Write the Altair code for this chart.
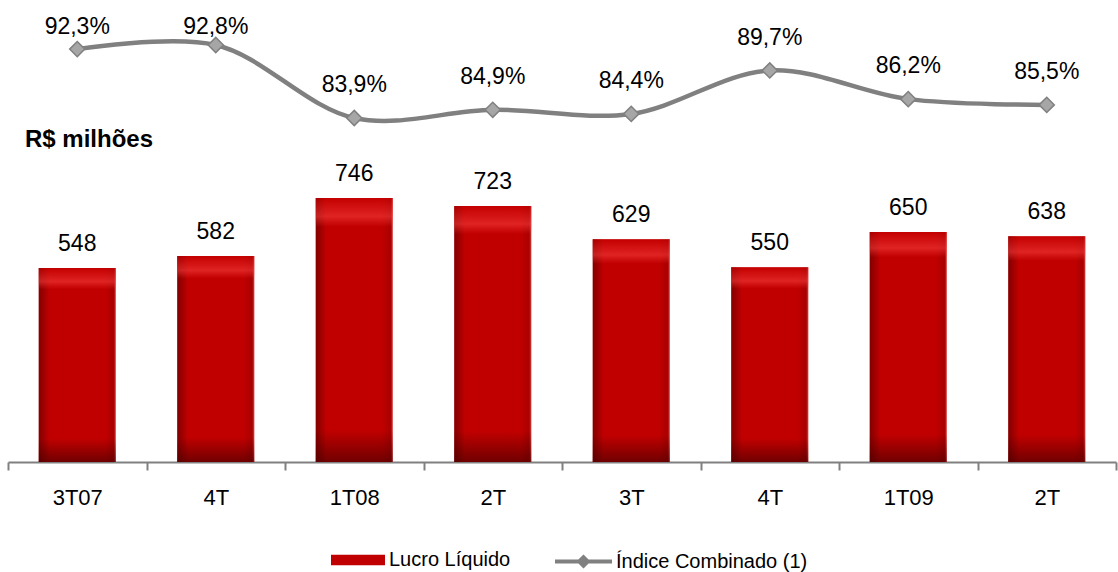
import altair as alt
import pandas as pd

# ---- data ----
periodos = ['3T07', '4T', '1T08', '2T', '3T', '4T', '1T09', '2T']
lucro = [548, 582, 746, 723, 629, 550, 650, 638]
indice = [92.3, 92.8, 83.9, 84.9, 84.4, 89.7, 86.2, 85.5]

FONT = 'Liberation Sans'

df = pd.DataFrame({
    'idx': list(range(len(periodos))),
    'periodo': periodos,
    'lucro': lucro,
    'indice': indice,
    'indice_txt': [f"{v:.1f}".replace('.', ',') + '%' for v in indice],
    'serie_bar': ['Lucro Líquido'] * len(periodos),
    'serie_line': ['Índice Combinado (1)'] * len(periodos),
})

label_expr = '[' + ','.join(f"'{p}'" for p in periodos) + '][datum.value]'

x = alt.X('idx:O',
          scale=alt.Scale(paddingInner=0, paddingOuter=0),
          axis=alt.Axis(title=None, labelExpr=label_expr, labelAngle=0,
                        domainColor='#808080', domainWidth=2,
                        tickColor='#808080', tickWidth=2, tickSize=8,
                        tickBand='extent', labelFontSize=22, labelFont=FONT,
                        labelColor='black', labelPadding=17))

base = alt.Chart(df)

y_bar = alt.Y('lucro:Q', scale=alt.Scale(domain=[0, 1277], nice=False, zero=True), axis=None)

bars = base.mark_bar(size=77).encode(
    x=x, y=y_bar,
    color=alt.Color('serie_bar:N',
                    scale=alt.Scale(domain=['Lucro Líquido'], range=['#c00000']),
                    legend=alt.Legend(title=None, orient='none', legendX=323, legendY=523,
                                      symbolType='M-1,-0.19H1V0.19H-1Z', symbolSize=2916,
                                      symbolStrokeWidth=0, labelFontSize=20, labelFont=FONT,
                                      labelColor='black', labelOffset=4, labelLimit=400)))

shade_h = base.mark_bar(size=77, fill=alt.Gradient(
    gradient='linear', x1=0, y1=0, x2=1, y2=0,
    stops=[alt.GradientStop(offset=0, color='rgba(80,0,0,0.55)'),
           alt.GradientStop(offset=0.14, color='rgba(80,0,0,0.0)'),
           alt.GradientStop(offset=0.86, color='rgba(80,0,0,0.0)'),
           alt.GradientStop(offset=0.97, color='rgba(80,0,0,0.2)'),
           alt.GradientStop(offset=1, color='rgba(255,150,150,0.5)')])).encode(x=x, y=y_bar)

shade_v = base.mark_bar(size=77, fill=alt.Gradient(
    gradient='linear', x1=0, y1=0, x2=0, y2=1,
    stops=[alt.GradientStop(offset=0, color='rgba(200,0,0,0.5)'),
           alt.GradientStop(offset=0.07, color='rgba(255,70,70,0.5)'),
           alt.GradientStop(offset=0.11, color='rgba(255,60,60,0.0)'),
           alt.GradientStop(offset=0.88, color='rgba(60,0,0,0.0)'),
           alt.GradientStop(offset=1, color='rgba(60,0,0,0.6)')])).encode(x=x, y=y_bar)

bar_labels = base.mark_text(dy=-24, fontSize=23, font=FONT, color='black').encode(
    x=x, y=y_bar, text='lucro:Q')

titulo = alt.Chart(pd.DataFrame({'t': ['R$ milhões']})).mark_text(
    align='left', baseline='middle', fontSize=24, fontWeight='bold', font=FONT, color='black'
).encode(x=alt.value(17), y=alt.value(130), text='t:N')

y_line = alt.Y('indice:Q', scale=alt.Scale(domain=[41.95, 97.07], nice=False, zero=False), axis=None)
y_lab = alt.Y('lab_y:Q', scale=alt.Scale(domain=[41.95, 97.07], nice=False, zero=False), axis=None)

line = base.mark_line(interpolate='catmull-rom', strokeWidth=4.5).encode(
    x=x, y=y_line,
    stroke=alt.Stroke('serie_line:N',
                      scale=alt.Scale(domain=['Índice Combinado (1)'], range=['#808080']),
                      legend=alt.Legend(title=None, orient='none', legendX=545, legendY=521,
                                        symbolType='M-1,0H1M-0.15,0L0,-0.15L0.15,0L0,0.15Z',
                                        symbolSize=3249, symbolStrokeWidth=4,
                                        symbolFillColor='#a6a6a6',
                                        labelFontSize=20, labelFont=FONT,
                                        labelColor='black', labelOffset=2, labelLimit=400)))

points = base.mark_point(shape='diamond', size=230, fill='#a6a6a6', fillOpacity=1,
                         stroke='#808080', strokeWidth=1.5, opacity=1).encode(x=x, y=y_line)

line_labels = base.transform_calculate(
    lab_y='min(datum.indice + 4.0, 95.0)'
).mark_text(fontSize=23, font=FONT, color='black').encode(
    x=x, y=y_lab, text='indice_txt:N')

chart = alt.layer(
    alt.layer(bars, shade_h, shade_v, bar_labels, titulo),
    alt.layer(line, points, line_labels),
).resolve_scale(y='independent', color='independent', stroke='independent').properties(
    width=1108, height=452,
    padding={'left': 8, 'right': 2, 'top': 10, 'bottom': 110},
    autosize=alt.AutoSizeParams(type='none'),
    background='white',
).configure_view(stroke='transparent', strokeWidth=0)

chart.save('out.html', embed_options={'renderer': 'svg', 'actions': False})
